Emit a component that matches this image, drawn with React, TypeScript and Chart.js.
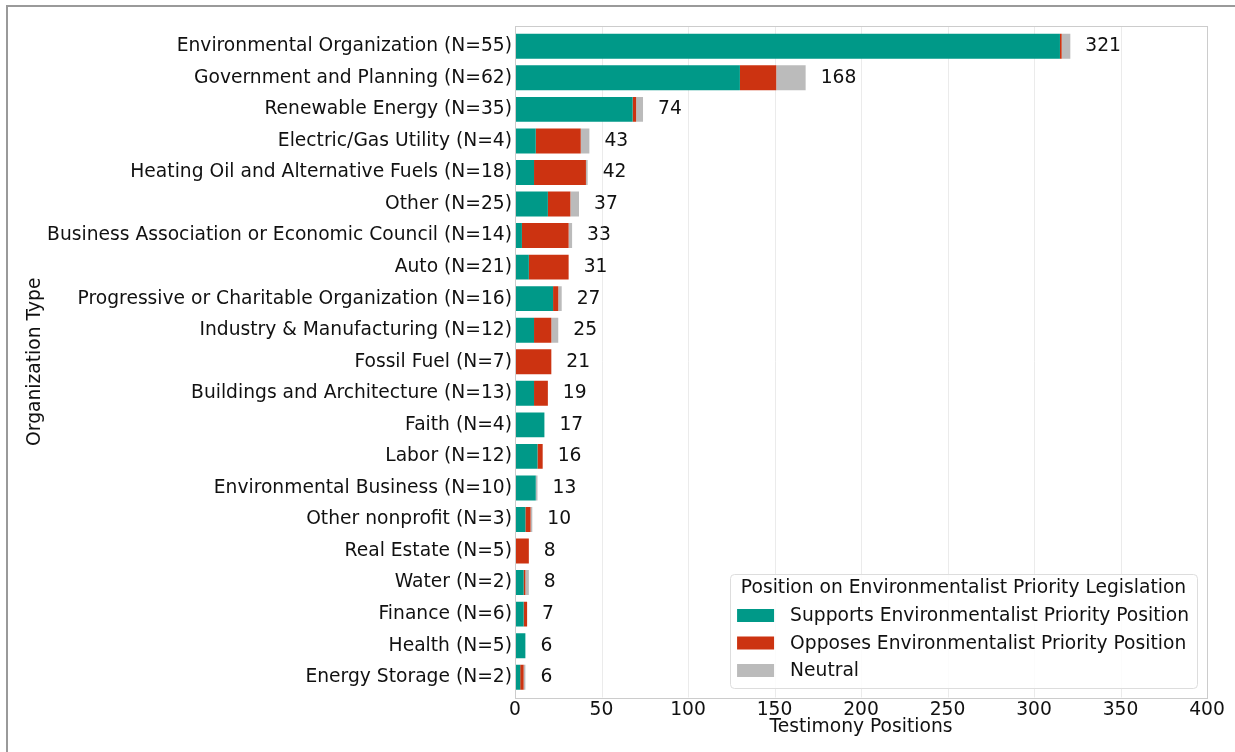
import React, { useEffect, useRef } from "react";
import { Chart, registerables } from "chart.js";

Chart.register(...registerables);

const categories = [
  "Environmental Organization (N=55)",
  "Government and Planning (N=62)",
  "Renewable Energy (N=35)",
  "Electric/Gas Utility (N=4)",
  "Heating Oil and Alternative Fuels (N=18)",
  "Other (N=25)",
  "Business Association or Economic Council (N=14)",
  "Auto (N=21)",
  "Progressive or Charitable Organization (N=16)",
  "Industry & Manufacturing (N=12)",
  "Fossil Fuel (N=7)",
  "Buildings and Architecture (N=13)",
  "Faith (N=4)",
  "Labor (N=12)",
  "Environmental Business (N=10)",
  "Other nonprofit (N=3)",
  "Real Estate (N=5)",
  "Water (N=2)",
  "Finance (N=6)",
  "Health (N=5)",
  "Energy Storage (N=2)",
];

const supports = [315, 130, 68, 12, 11, 19, 4, 8, 22, 11, 0, 11, 17, 13, 12, 6, 0, 5, 5, 6, 3];
const opposes = [1, 21, 2, 26, 30, 13, 27, 23, 3, 10, 21, 8, 0, 3, 0, 3, 8, 1, 2, 0, 2];
const neutral = [5, 17, 4, 5, 1, 5, 2, 0, 2, 4, 0, 0, 0, 0, 1, 1, 0, 2, 0, 0, 1];

const seriesNames = [
  "Supports Environmentalist Priority Position",
  "Opposes Environmentalist Priority Position",
  "Neutral",
];
const seriesColors = ["#009988", "#CC3311", "#BBBBBB"];
const legendTitle = "Position on Environmentalist Priority Legislation";

const xTicks = [0, 50, 100, 150, 200, 250, 300, 350, 400];

const FONT = "'DejaVu Sans', sans-serif";
const FS = 18.7;
const TEXT = "#111111";
const EXT = 4.5; // extra frame margin above/below the category bands

const frameAndGrid = {
  id: "frameAndGrid",
  beforeDatasetsDraw(chart: any) {
    const { ctx, chartArea } = chart;
    const xScale = chart.scales.x;
    const top = chartArea.top - EXT;
    const bottom = chartArea.bottom + EXT;
    ctx.save();
    ctx.strokeStyle = "#ebebeb";
    ctx.lineWidth = 1;
    xTicks.forEach((v) => {
      const x = Math.round(xScale.getPixelForValue(v)) + 0.5;
      ctx.beginPath();
      ctx.moveTo(x, top);
      ctx.lineTo(x, bottom);
      ctx.stroke();
    });
    ctx.restore();
  },
  afterDatasetsDraw(chart: any) {
    const { ctx, chartArea } = chart;
    const top = chartArea.top - EXT;
    const bottom = chartArea.bottom + EXT;
    ctx.save();
    ctx.strokeStyle = "#cccccc";
    ctx.lineWidth = 1;
    ctx.strokeRect(
      Math.round(chartArea.left) + 0.5,
      Math.round(top) + 0.5,
      Math.round(chartArea.right - chartArea.left),
      Math.round(bottom - top)
    );
    ctx.restore();
  },
};

const totalLabels = {
  id: "totalLabels",
  afterDatasetsDraw(chart: any) {
    const { ctx } = chart;
    const xScale = chart.scales.x;
    const yScale = chart.scales.y;
    ctx.save();
    ctx.font = `${FS}px ${FONT}`;
    ctx.fillStyle = TEXT;
    ctx.textAlign = "left";
    ctx.textBaseline = "middle";
    categories.forEach((_, i) => {
      const total = supports[i] + opposes[i] + neutral[i];
      const x = xScale.getPixelForValue(total) + 15;
      const y = yScale.getPixelForValue(i);
      ctx.fillText(String(total), x, y);
    });
    ctx.restore();
  },
};

const insideLegend = {
  id: "insideLegend",
  afterDraw(chart: any) {
    const { ctx, chartArea } = chart;
    ctx.save();
    ctx.font = `${FS}px ${FONT}`;
    const titleW = ctx.measureText(legendTitle).width;
    let entryW = 0;
    seriesNames.forEach((n) => {
      entryW = Math.max(entryW, ctx.measureText(n).width);
    });
    const padL = 7;
    const padR = 8;
    const patchW = 37;
    const gap = 16;
    const rowH = 27.5;
    const boxW = Math.max(titleW + 21, padL + patchW + gap + entryW + padR);
    const boxH = 114;
    const right = chartArea.right - 10;
    const bottom = chartArea.bottom + EXT - 10;
    const left = right - boxW;
    const top = bottom - boxH;

    ctx.fillStyle = "rgba(255,255,255,0.85)";
    ctx.strokeStyle = "#dddddd";
    ctx.lineWidth = 1;
    ctx.beginPath();
    (ctx as any).roundRect(Math.round(left) + 0.5, Math.round(top) + 0.5, Math.round(boxW), Math.round(boxH), 4);
    ctx.fill();
    ctx.stroke();

    ctx.fillStyle = TEXT;
    ctx.textBaseline = "middle";
    ctx.textAlign = "center";
    ctx.fillText(legendTitle, left + boxW / 2, top + 15);

    ctx.textAlign = "left";
    seriesNames.forEach((n, i) => {
      const cy = top + 42 + i * rowH;
      ctx.fillStyle = seriesColors[i];
      ctx.fillRect(left + padL, cy - 6.5, patchW, 13);
      ctx.fillStyle = TEXT;
      ctx.fillText(n, left + padL + patchW + gap, cy + 1);
    });
    ctx.restore();
  },
};

export default function App() {
  const canvasRef = useRef<HTMLCanvasElement | null>(null);

  useEffect(() => {
    if (!canvasRef.current) return;
    Chart.defaults.font.family = FONT;
    Chart.defaults.color = TEXT;
    const data = [supports, opposes, neutral];
    const chart = new Chart(canvasRef.current, {
      type: "bar",
      data: {
        labels: categories,
        datasets: seriesNames.map((name, i) => ({
          label: name,
          data: data[i],
          backgroundColor: seriesColors[i],
          borderWidth: 0,
          categoryPercentage: 0.79,
          barPercentage: 1.0,
        })),
      },
      options: {
        indexAxis: "y",
        responsive: false,
        animation: false,
        devicePixelRatio: 1,
        layout: { padding: { left: 0, top: 30.5, right: 28, bottom: 0 } },
        plugins: {
          legend: { display: false },
          tooltip: { enabled: false },
        },
        scales: {
          x: {
            stacked: true,
            min: 0,
            max: 400,
            afterBuildTicks: (s: any) => {
              s.ticks = xTicks.map((v) => ({ value: v }));
            },
            afterFit: (s: any) => {
              s.height = 59;
            },
            grid: { display: false, drawTicks: false },
            border: { display: false },
            ticks: { font: { size: FS }, color: TEXT, padding: 6, maxRotation: 0 },
            title: {
              display: true,
              text: "Testimony Positions",
              font: { size: FS },
              color: TEXT,
              padding: { top: 0, bottom: 14 },
            },
          },
          y: {
            stacked: true,
            afterFit: (s: any) => {
              s.width = 515;
            },
            grid: { display: false, drawTicks: false },
            border: { display: false },
            ticks: { font: { size: FS }, color: TEXT, padding: 3, autoSkip: false },
            title: {
              display: true,
              text: "Organization Type",
              font: { size: FS },
              color: TEXT,
              padding: { top: 24, bottom: 0 },
            },
          },
        },
      },
      plugins: [frameAndGrid, totalLabels, insideLegend],
    });
    return () => chart.destroy();
  }, []);

  return (
    <div
      style={{
        position: "fixed",
        left: 0,
        top: 0,
        width: 1235,
        height: 752,
        background: "#ffffff",
        overflow: "hidden",
      }}
    >
      <div
        style={{
          position: "absolute",
          left: 6,
          top: 5,
          right: 0,
          bottom: 0,
          borderLeft: "2px solid #9a9a9a",
          borderTop: "2px solid #9a9a9a",
        }}
      />
      <canvas
        ref={canvasRef}
        width={1235}
        height={752}
        style={{ position: "absolute", left: 0, top: 0, width: 1235, height: 752 }}
      />
    </div>
  );
}
